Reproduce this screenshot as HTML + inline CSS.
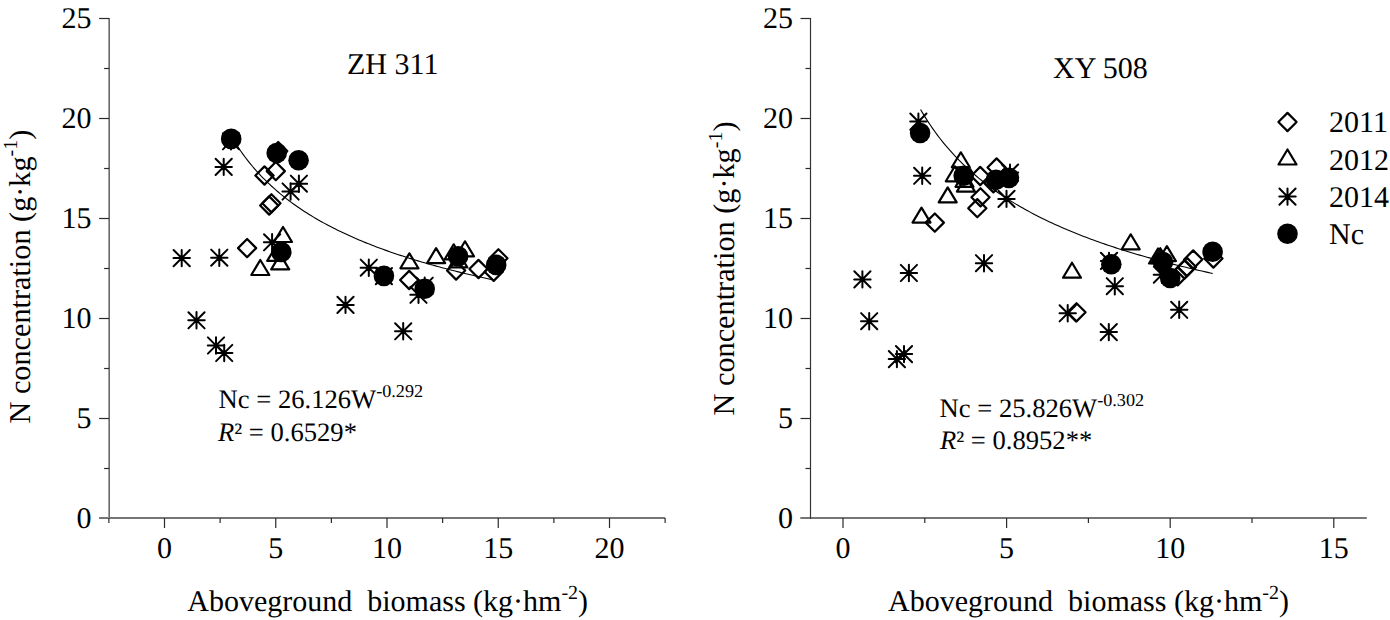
<!DOCTYPE html>
<html><head><meta charset="utf-8"><style>
html,body{margin:0;padding:0;background:#fff;width:1390px;height:620px;overflow:hidden}
svg{display:block}
</style></head><body>
<svg width="1390" height="620" viewBox="0 0 1390 620">
<style>
.ax{stroke:#2a2a2a;stroke-width:1.2;fill:none}
.tk{stroke:#2a2a2a;stroke-width:1.2;fill:none}
.m{fill:none;stroke:#000;stroke-width:2.2;stroke-linejoin:round}
.a{fill:none;stroke:#000;stroke-width:2;stroke-linecap:round}
.c{fill:none;stroke:#000;stroke-width:1.1}
text{font-family:"Liberation Serif",serif;fill:#000;text-rendering:geometricPrecision}
</style>
<rect x="99.0" y="517" width="566.1" height="2" fill="#767676"/>
<rect x="108" y="18" width="1" height="500" fill="#a2a2a2"/>
<rect x="109" y="18" width="1" height="500" fill="#6a6a6a"/>
<line x1="99.1" y1="418.5" x2="109.1" y2="418.5" class="tk"/>
<line x1="99.1" y1="318.5" x2="109.1" y2="318.5" class="tk"/>
<line x1="99.1" y1="218.5" x2="109.1" y2="218.5" class="tk"/>
<line x1="99.1" y1="118.5" x2="109.1" y2="118.5" class="tk"/>
<line x1="99.1" y1="18.5" x2="109.1" y2="18.5" class="tk"/>
<line x1="104.1" y1="468.5" x2="109.1" y2="468.5" class="tk"/>
<line x1="104.1" y1="368.5" x2="109.1" y2="368.5" class="tk"/>
<line x1="104.1" y1="268.5" x2="109.1" y2="268.5" class="tk"/>
<line x1="104.1" y1="168.5" x2="109.1" y2="168.5" class="tk"/>
<line x1="104.1" y1="68.5" x2="109.1" y2="68.5" class="tk"/>
<line x1="164.50" y1="518.0" x2="164.50" y2="528" class="tk"/>
<line x1="275.75" y1="518.0" x2="275.75" y2="528" class="tk"/>
<line x1="387.00" y1="518.0" x2="387.00" y2="528" class="tk"/>
<line x1="498.25" y1="518.0" x2="498.25" y2="528" class="tk"/>
<line x1="609.50" y1="518.0" x2="609.50" y2="528" class="tk"/>
<line x1="108.88" y1="518.0" x2="108.88" y2="523" class="tk"/>
<line x1="220.12" y1="518.0" x2="220.12" y2="523" class="tk"/>
<line x1="331.38" y1="518.0" x2="331.38" y2="523" class="tk"/>
<line x1="442.62" y1="518.0" x2="442.62" y2="523" class="tk"/>
<line x1="553.88" y1="518.0" x2="553.88" y2="523" class="tk"/>
<line x1="665.12" y1="518.0" x2="665.12" y2="523" class="tk"/>
<rect x="800.3" y="517" width="566.5" height="2" fill="#767676"/>
<rect x="810" y="18" width="1" height="500" fill="#333"/>
<rect x="809" y="18" width="1" height="499" fill="#ececec"/>
<rect x="811" y="18" width="1" height="499" fill="#ececec"/>
<rect x="810" y="517" width="1" height="2" fill="#333"/>
<line x1="800.5" y1="418.5" x2="810.5" y2="418.5" class="tk"/>
<line x1="800.5" y1="318.5" x2="810.5" y2="318.5" class="tk"/>
<line x1="800.5" y1="218.5" x2="810.5" y2="218.5" class="tk"/>
<line x1="800.5" y1="118.5" x2="810.5" y2="118.5" class="tk"/>
<line x1="800.5" y1="18.5" x2="810.5" y2="18.5" class="tk"/>
<line x1="805.5" y1="468.5" x2="810.5" y2="468.5" class="tk"/>
<line x1="805.5" y1="368.5" x2="810.5" y2="368.5" class="tk"/>
<line x1="805.5" y1="268.5" x2="810.5" y2="268.5" class="tk"/>
<line x1="805.5" y1="168.5" x2="810.5" y2="168.5" class="tk"/>
<line x1="805.5" y1="68.5" x2="810.5" y2="68.5" class="tk"/>
<line x1="843.00" y1="518.0" x2="843.00" y2="528" class="tk"/>
<line x1="1006.60" y1="518.0" x2="1006.60" y2="528" class="tk"/>
<line x1="1170.20" y1="518.0" x2="1170.20" y2="528" class="tk"/>
<line x1="1333.80" y1="518.0" x2="1333.80" y2="528" class="tk"/>
<line x1="924.80" y1="518.0" x2="924.80" y2="523" class="tk"/>
<line x1="1088.40" y1="518.0" x2="1088.40" y2="523" class="tk"/>
<line x1="1252.00" y1="518.0" x2="1252.00" y2="523" class="tk"/>
<text x="91.4" y="528.0" font-size="30" text-anchor="end">0</text>
<text x="91.4" y="428.0" font-size="30" text-anchor="end">5</text>
<text x="91.4" y="328.0" font-size="30" text-anchor="end">10</text>
<text x="91.4" y="228.0" font-size="30" text-anchor="end">15</text>
<text x="91.4" y="128.0" font-size="30" text-anchor="end">20</text>
<text x="91.4" y="28.0" font-size="30" text-anchor="end">25</text>
<text x="793.0" y="528.0" font-size="30" text-anchor="end">0</text>
<text x="793.0" y="428.0" font-size="30" text-anchor="end">5</text>
<text x="793.0" y="328.0" font-size="30" text-anchor="end">10</text>
<text x="793.0" y="228.0" font-size="30" text-anchor="end">15</text>
<text x="793.0" y="128.0" font-size="30" text-anchor="end">20</text>
<text x="793.0" y="28.0" font-size="30" text-anchor="end">25</text>
<text x="164.5" y="558" font-size="30" text-anchor="middle">0</text>
<text x="275.8" y="558" font-size="30" text-anchor="middle">5</text>
<text x="387.0" y="558" font-size="30" text-anchor="middle">10</text>
<text x="498.2" y="558" font-size="30" text-anchor="middle">15</text>
<text x="609.5" y="558" font-size="30" text-anchor="middle">20</text>
<text x="843.0" y="558" font-size="30" text-anchor="middle">0</text>
<text x="1006.6" y="558" font-size="30" text-anchor="middle">5</text>
<text x="1170.2" y="558" font-size="30" text-anchor="middle">10</text>
<text x="1333.8" y="558" font-size="30" text-anchor="middle">15</text>
<text x="347" y="74" font-size="30">ZH 311</text>
<text x="1053" y="78" font-size="30">XY 508</text>
<text x="187.3" y="611" font-size="30" xml:space="preserve">Aboveground  biomass (kg·hm<tspan dy="-12.3" font-size="20">-2</tspan><tspan dy="12.3">)</tspan></text>
<text x="888.1" y="611" font-size="30" xml:space="preserve">Aboveground  biomass (kg·hm<tspan dy="-12.3" font-size="20">-2</tspan><tspan dy="12.3">)</tspan></text>
<text transform="translate(29.5,423.5) rotate(-90)" x="0" y="0" font-size="30.25">N concentration (g·kg<tspan dy="-12.3" font-size="20">-1</tspan><tspan dy="12.3">)</tspan></text>
<text transform="translate(734.4,415.4) rotate(-90)" x="0" y="0" font-size="30.25">N concentration (g·kg<tspan dy="-12.3" font-size="20">-1</tspan><tspan dy="12.3">)</tspan></text>
<text x="218.6" y="408" font-size="26.6">Nc = 26.126W<tspan dy="-11" font-size="18.2">-0.292</tspan></text>
<text x="218" y="441" font-size="26.6"><tspan font-style="italic">R</tspan>² = 0.6529*</text>
<text x="939.6" y="417" font-size="26.6">Nc = 25.826W<tspan dy="-11" font-size="18.2">-0.302</tspan></text>
<text x="940" y="449" font-size="26.6"><tspan font-style="italic">R</tspan>² = 0.8952**</text>
<polyline class="c" points="230.14,134.49 232.32,138.19 234.51,141.73 236.69,145.13 238.87,148.41 241.06,151.56 243.24,154.60 245.43,157.52 247.61,160.35 249.80,163.09 251.98,165.73 254.16,168.29 256.35,170.77 258.53,173.18 260.72,175.51 262.90,177.78 265.08,179.98 267.27,182.12 269.45,184.21 271.64,186.24 273.82,188.21 276.01,190.14 278.19,192.01 280.37,193.84 282.56,195.63 284.74,197.37 286.93,199.07 289.11,200.74 291.30,202.37 293.48,203.96 295.66,205.51 297.85,207.04 300.03,208.53 302.22,209.99 304.40,211.42 306.58,212.82 308.77,214.20 310.95,215.54 313.14,216.86 315.32,218.16 317.51,219.43 319.69,220.68 321.87,221.91 324.06,223.12 326.24,224.30 328.43,225.46 330.61,226.61 332.80,227.73 334.98,228.84 337.16,229.92 339.35,230.99 341.53,232.05 343.72,233.08 345.90,234.10 348.08,235.11 350.27,236.09 352.45,237.07 354.64,238.03 356.82,238.97 359.01,239.90 361.19,240.82 363.37,241.72 365.56,242.62 367.74,243.49 369.93,244.36 372.11,245.22 374.30,246.06 376.48,246.89 378.66,247.71 380.85,248.52 383.03,249.32 385.22,250.11 387.40,250.89 389.58,251.66 391.77,252.42 393.95,253.17 396.14,253.92 398.32,254.65 400.51,255.37 402.69,256.09 404.87,256.79 407.06,257.49 409.24,258.18 411.43,258.86 413.61,259.54 415.80,260.21 417.98,260.87 420.16,261.52 422.35,262.16 424.53,262.80 426.72,263.43 428.90,264.06 431.08,264.67 433.27,265.28 435.45,265.89 437.64,266.49 439.82,267.08 442.01,267.67 444.19,268.25 446.37,268.82 448.56,269.39 450.74,269.95 452.93,270.51 455.11,271.06 457.30,271.61 459.48,272.15 461.66,272.69 463.85,273.22 466.03,273.74 468.22,274.27 470.40,274.78 472.58,275.29 474.77,275.80 476.95,276.30 479.14,276.80 481.32,277.29 483.51,277.78 485.69,278.27 487.87,278.75 490.06,279.22 492.24,279.70"/>
<polyline class="c" points="920.55,109.50 922.98,113.63 925.42,117.59 927.85,121.40 930.29,125.07 932.72,128.60 935.16,132.01 937.59,135.30 940.03,138.49 942.46,141.56 944.90,144.54 947.33,147.43 949.77,150.22 952.20,152.94 954.64,155.57 957.07,158.13 959.51,160.62 961.94,163.04 964.37,165.39 966.81,167.69 969.24,169.92 971.68,172.10 974.11,174.22 976.55,176.29 978.98,178.32 981.42,180.29 983.85,182.22 986.29,184.10 988.72,185.95 991.16,187.75 993.59,189.51 996.03,191.24 998.46,192.93 1000.90,194.59 1003.33,196.21 1005.77,197.80 1008.20,199.35 1010.64,200.88 1013.07,202.38 1015.51,203.85 1017.94,205.30 1020.38,206.71 1022.81,208.10 1025.25,209.47 1027.68,210.81 1030.12,212.13 1032.55,213.43 1034.99,214.70 1037.42,215.96 1039.86,217.19 1042.29,218.40 1044.73,219.59 1047.16,220.77 1049.60,221.92 1052.03,223.06 1054.47,224.18 1056.90,225.28 1059.34,226.37 1061.77,227.44 1064.21,228.50 1066.64,229.53 1069.08,230.56 1071.51,231.57 1073.95,232.57 1076.38,233.55 1078.82,234.52 1081.25,235.47 1083.69,236.41 1086.12,237.34 1088.56,238.26 1090.99,239.17 1093.43,240.06 1095.86,240.94 1098.30,241.81 1100.73,242.67 1103.16,243.52 1105.60,244.36 1108.03,245.19 1110.47,246.01 1112.90,246.82 1115.34,247.62 1117.77,248.41 1120.21,249.19 1122.64,249.96 1125.08,250.72 1127.51,251.47 1129.95,252.22 1132.38,252.96 1134.82,253.69 1137.25,254.41 1139.69,255.12 1142.12,255.82 1144.56,256.52 1146.99,257.21 1149.43,257.89 1151.86,258.57 1154.30,259.24 1156.73,259.90 1159.17,260.56 1161.60,261.20 1164.04,261.85 1166.47,262.48 1168.91,263.11 1171.34,263.73 1173.78,264.35 1176.21,264.96 1178.65,265.56 1181.08,266.16 1183.52,266.76 1185.95,267.34 1188.39,267.93 1190.82,268.50 1193.26,269.08 1195.69,269.64 1198.13,270.20 1200.56,270.76 1203.00,271.31 1205.43,271.85 1207.87,272.40 1210.30,272.93 1212.74,273.46"/>
<path d="M247.1 239.0L256.2 248.1L247.1 257.2L238.0 248.1Z" class="m"/>
<path d="M278.2 142.0L287.3 151.1L278.2 160.2L269.1 151.1Z" class="m"/>
<path d="M264.5 166.4L273.6 175.5L264.5 184.6L255.4 175.5Z" class="m"/>
<path d="M275.8 162.0L284.9 171.1L275.8 180.2L266.7 171.1Z" class="m"/>
<path d="M271.4 194.2L280.5 203.3L271.4 212.4L262.3 203.3Z" class="m"/>
<path d="M269.2 196.4L278.3 205.5L269.2 214.6L260.1 205.5Z" class="m"/>
<path d="M409.2 270.9L418.3 280.0L409.2 289.1L400.1 280.0Z" class="m"/>
<path d="M456.1 261.4L465.2 270.5L456.1 279.6L447.0 270.5Z" class="m"/>
<path d="M478.5 259.9L487.6 269.0L478.5 278.1L469.4 269.0Z" class="m"/>
<path d="M498.4 249.2L507.5 258.3L498.4 267.4L489.3 258.3Z" class="m"/>
<path d="M493.7 262.7L502.8 271.8L493.7 280.9L484.6 271.8Z" class="m"/>
<path d="M934.8 213.5L943.9 222.6L934.8 231.7L925.7 222.6Z" class="m"/>
<path d="M980.2 166.9L989.3 176.0L980.2 185.1L971.1 176.0Z" class="m"/>
<path d="M996.6 158.4L1005.7 167.5L996.6 176.6L987.5 167.5Z" class="m"/>
<path d="M993.4 174.2L1002.5 183.3L993.4 192.4L984.3 183.3Z" class="m"/>
<path d="M980.5 188.2L989.6 197.3L980.5 206.4L971.4 197.3Z" class="m"/>
<path d="M977.3 199.1L986.4 208.2L977.3 217.3L968.2 208.2Z" class="m"/>
<path d="M1076.5 303.2L1085.6 312.3L1076.5 321.4L1067.4 312.3Z" class="m"/>
<path d="M1213.4 249.4L1222.5 258.5L1213.4 267.6L1204.3 258.5Z" class="m"/>
<path d="M1193.2 250.4L1202.3 259.5L1193.2 268.6L1184.1 259.5Z" class="m"/>
<path d="M1187.0 257.9L1196.1 267.0L1187.0 276.1L1177.9 267.0Z" class="m"/>
<path d="M1184.5 260.4L1193.6 269.5L1184.5 278.6L1175.4 269.5Z" class="m"/>
<path d="M1177.7 267.2L1186.8 276.3L1177.7 285.4L1168.6 276.3Z" class="m"/>
<path d="M260.3 260.0L269.3 275.0L251.3 275.0Z" class="m"/>
<path d="M283.0 227.0L292.0 242.0L274.0 242.0Z" class="m"/>
<path d="M276.2 245.9L285.2 260.9L267.2 260.9Z" class="m"/>
<path d="M280.2 254.4L289.2 269.4L271.2 269.4Z" class="m"/>
<path d="M409.4 253.3L418.4 268.3L400.4 268.3Z" class="m"/>
<path d="M436.1 248.1L445.1 263.1L427.1 263.1Z" class="m"/>
<path d="M453.7 244.3L462.7 259.3L444.7 259.3Z" class="m"/>
<path d="M465.0 241.3L474.0 256.3L456.0 256.3Z" class="m"/>
<path d="M458.3 252.3L467.3 267.3L449.3 267.3Z" class="m"/>
<path d="M921.5 207.6L930.5 222.6L912.5 222.6Z" class="m"/>
<path d="M947.7 187.4L956.7 202.4L938.7 202.4Z" class="m"/>
<path d="M960.8 152.3L969.8 167.3L951.8 167.3Z" class="m"/>
<path d="M954.8 166.3L963.8 181.3L945.8 181.3Z" class="m"/>
<path d="M964.5 171.8L973.5 186.8L955.5 186.8Z" class="m"/>
<path d="M965.9 176.6L974.9 191.6L956.9 191.6Z" class="m"/>
<path d="M1072.0 262.7L1081.0 277.7L1063.0 277.7Z" class="m"/>
<path d="M1130.7 234.3L1139.7 249.3L1121.7 249.3Z" class="m"/>
<path d="M1158.0 248.5L1167.0 263.5L1149.0 263.5Z" class="m"/>
<path d="M1160.3 248.2L1169.3 263.2L1151.3 263.2Z" class="m"/>
<path d="M1166.9 246.1L1175.9 261.1L1157.9 261.1Z" class="m"/>
<path d="M231.0 133.1V149.5M222.8 141.3H239.2M222.9 133.2L239.1 149.4M239.1 133.2L222.9 149.4" class="a"/>
<path d="M223.7 158.7V175.1M215.5 166.9H231.9M215.6 158.8L231.8 175.0M231.8 158.8L215.6 175.0" class="a"/>
<path d="M181.7 249.9V266.3M173.5 258.1H189.9M173.6 250.0L189.8 266.2M189.8 250.0L173.6 266.2" class="a"/>
<path d="M219.3 249.5V265.9M211.1 257.7H227.5M211.2 249.6L227.4 265.8M227.4 249.6L211.2 265.8" class="a"/>
<path d="M196.5 312.1V328.5M188.3 320.3H204.7M188.4 312.2L204.6 328.4M204.6 312.2L188.4 328.4" class="a"/>
<path d="M216.0 337.3V353.7M207.8 345.5H224.2M207.9 337.4L224.1 353.6M224.1 337.4L207.9 353.6" class="a"/>
<path d="M224.2 344.8V361.2M216.0 353.0H232.4M216.1 344.9L232.3 361.1M232.3 344.9L216.1 361.1" class="a"/>
<path d="M272.1 234.1V250.5M263.9 242.3H280.3M264.0 234.2L280.2 250.4M280.2 234.2L264.0 250.4" class="a"/>
<path d="M298.9 175.5V191.9M290.7 183.7H307.1M290.8 175.6L307.0 191.8M307.0 175.6L290.8 191.8" class="a"/>
<path d="M290.6 183.3V199.7M282.4 191.5H298.8M282.5 183.4L298.7 199.6M298.7 183.4L282.5 199.6" class="a"/>
<path d="M368.8 259.5V275.9M360.6 267.7H377.0M360.7 259.6L376.9 275.8M376.9 259.6L360.7 275.8" class="a"/>
<path d="M383.9 267.9V284.3M375.7 276.1H392.1M375.8 268.0L392.0 284.2M392.0 268.0L375.8 284.2" class="a"/>
<path d="M345.5 296.7V313.1M337.3 304.9H353.7M337.4 296.8L353.6 313.0M353.6 296.8L337.4 313.0" class="a"/>
<path d="M418.5 286.6V303.0M410.3 294.8H426.7M410.4 286.7L426.6 302.9M426.6 286.7L410.4 302.9" class="a"/>
<path d="M424.7 277.5V293.9M416.5 285.7H432.9M416.6 277.6L432.8 293.8M432.8 277.6L416.6 293.8" class="a"/>
<path d="M403.2 323.1V339.5M395.0 331.3H411.4M395.1 323.2L411.3 339.4M411.3 323.2L395.1 339.4" class="a"/>
<path d="M918.4 113.4V129.8M910.2 121.6H926.6M910.3 113.5L926.5 129.7M926.5 113.5L910.3 129.7" class="a"/>
<path d="M922.2 167.6V184.0M914.0 175.8H930.4M914.1 167.7L930.3 183.9M930.3 167.7L914.1 183.9" class="a"/>
<path d="M862.4 271.2V287.6M854.2 279.4H870.6M854.3 271.3L870.5 287.5M870.5 271.3L854.3 287.5" class="a"/>
<path d="M908.9 264.8V281.2M900.7 273.0H917.1M900.8 264.9L917.0 281.1M917.0 264.9L900.8 281.1" class="a"/>
<path d="M869.2 313.0V329.4M861.0 321.2H877.4M861.1 313.1L877.3 329.3M877.3 313.1L861.1 329.3" class="a"/>
<path d="M904.0 345.9V362.3M895.8 354.1H912.2M895.9 346.0L912.1 362.2M912.1 346.0L895.9 362.2" class="a"/>
<path d="M896.9 350.9V367.3M888.7 359.1H905.1M888.8 351.0L905.0 367.2M905.0 351.0L888.8 367.2" class="a"/>
<path d="M1010.0 164.4V180.8M1001.8 172.6H1018.2M1001.9 164.5L1018.1 180.7M1018.1 164.5L1001.9 180.7" class="a"/>
<path d="M1006.5 190.7V207.1M998.3 198.9H1014.7M998.4 190.8L1014.6 207.0M1014.6 190.8L998.4 207.0" class="a"/>
<path d="M1109.0 252.7V269.1M1100.8 260.9H1117.2M1100.9 252.8L1117.1 269.0M1117.1 252.8L1100.9 269.0" class="a"/>
<path d="M1114.8 278.0V294.4M1106.6 286.2H1123.0M1106.7 278.1L1122.9 294.3M1122.9 278.1L1106.7 294.3" class="a"/>
<path d="M1067.7 305.1V321.5M1059.5 313.3H1075.9M1059.6 305.2L1075.8 321.4M1075.8 305.2L1059.6 321.4" class="a"/>
<path d="M1108.8 323.9V340.3M1100.6 332.1H1117.0M1100.7 324.0L1116.9 340.2M1116.9 324.0L1100.7 340.2" class="a"/>
<path d="M1161.9 266.5V282.9M1153.7 274.7H1170.1M1153.8 266.6L1170.0 282.8M1170.0 266.6L1153.8 282.8" class="a"/>
<path d="M1179.2 301.6V318.0M1171.0 309.8H1187.4M1171.1 301.7L1187.3 317.9M1187.3 301.7L1171.1 317.9" class="a"/>
<path d="M984.0 255.0V271.4M975.8 263.2H992.2M975.9 255.1L992.1 271.3M992.1 255.1L975.9 271.3" class="a"/>
<circle cx="231.2" cy="138.9" r="10.3"/>
<circle cx="276.7" cy="153.0" r="10.3"/>
<circle cx="298.6" cy="160.2" r="10.3"/>
<circle cx="281.3" cy="252.0" r="10.3"/>
<circle cx="383.9" cy="275.9" r="10.3"/>
<circle cx="424.7" cy="288.8" r="10.3"/>
<circle cx="458.1" cy="256.4" r="10.3"/>
<circle cx="496.2" cy="264.9" r="10.3"/>
<circle cx="920.1" cy="133.0" r="10.3"/>
<circle cx="963.7" cy="175.7" r="10.3"/>
<circle cx="996.0" cy="179.8" r="10.3"/>
<circle cx="1008.9" cy="177.9" r="10.3"/>
<circle cx="1111.3" cy="264.3" r="10.3"/>
<circle cx="1170.2" cy="278.0" r="10.3"/>
<circle cx="1163.0" cy="262.0" r="10.3"/>
<circle cx="1212.6" cy="251.8" r="10.3"/>
<path d="M1287.5 112.9L1296.6 122.0L1287.5 131.1L1278.4 122.0Z" class="m"/>
<path d="M1287.5 149.5L1296.5 164.5L1278.5 164.5Z" class="m"/>
<path d="M1287.5 188.4V204.8M1279.3 196.6H1295.7M1279.4 188.5L1295.6 204.7M1295.6 188.5L1279.4 204.7" class="a"/>
<circle cx="1287.5" cy="233.7" r="10.3"/>
<text x="1329" y="132.3" font-size="30">2011</text>
<text x="1329" y="169.5" font-size="30">2012</text>
<text x="1329" y="206.7" font-size="30">2014</text>
<text x="1329" y="243.9" font-size="30">Nc</text>
</svg>
</body></html>
